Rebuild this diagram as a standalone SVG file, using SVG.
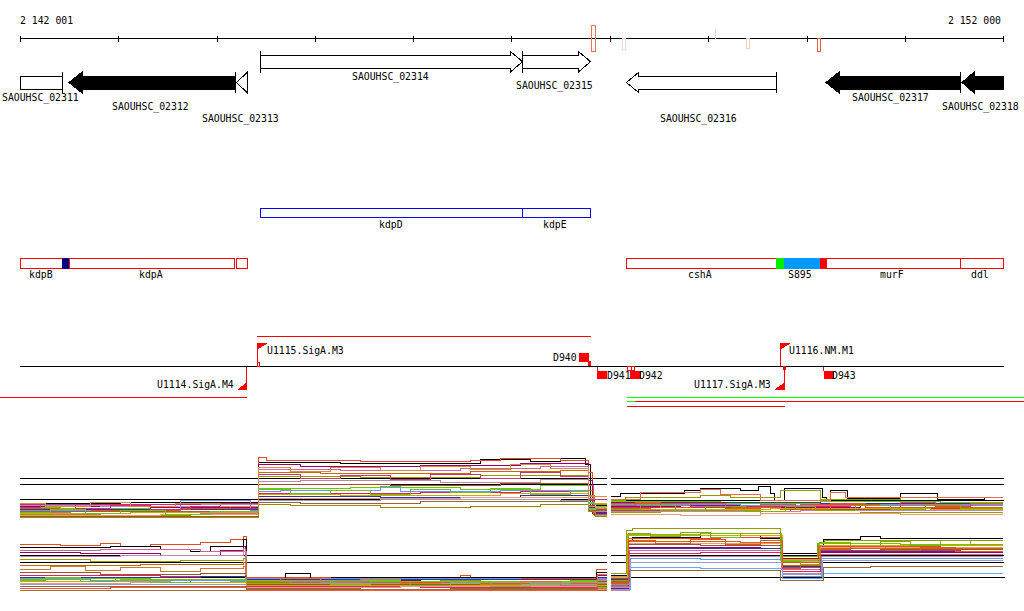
<svg xmlns="http://www.w3.org/2000/svg" width="1024" height="611" viewBox="0 0 1024 611">
<defs>
<style>
.t{font-family:"DejaVu Sans Mono","Liberation Mono",monospace;font-size:9.8px;fill:#000}
.g{fill:#fff;stroke:#000;stroke-width:1}
.gb{fill:#000;stroke:#000;stroke-width:1}
.ln{stroke:#000;stroke-width:1;fill:none}
.rl{stroke:#ff0000;stroke-width:1;fill:none}
.rf{fill:#ff0000}
.rb{fill:none;stroke:#ff0000;stroke-width:1}
.bb{fill:none;stroke:#0000ff;stroke-width:1}
.d path{fill:none;stroke-width:1}
.ref{stroke:#000;stroke-width:1}
</style>
</defs>
<rect width="1024" height="611" fill="#fff"/>
<g shape-rendering="crispEdges">
<g id="ruler">
<text class="t" x="20" y="24">2 142 001</text>
<text class="t" x="1001" y="24" text-anchor="end">2 152 000</text>
<line class="ln" x1="20" y1="38.5" x2="1004" y2="38.5"/>
<path class="ln" d="M20.5,35.5V41.5M118.5,35.5V41.5M217.5,35.5V41.5M315.5,35.5V41.5M413.5,35.5V41.5M511.5,35.5V41.5M610.5,35.5V41.5M708.5,35.5V41.5M807.5,35.5V41.5M905.5,35.5V41.5M1003.5,35.5V41.5"/>
<rect x="591.5" y="25.5" width="4" height="26" fill="none" stroke="#e8735a"/>
<rect x="622.5" y="38.5" width="2.5" height="10.5" fill="none" stroke="#f5d5c8"/>
<rect x="714.5" y="29" width="1.8" height="10" fill="#fbd3c0"/>
<rect x="746.5" y="38.5" width="2.5" height="10" fill="none" stroke="#f8cbbb"/>
<rect x="817.5" y="38.5" width="3" height="13" fill="none" stroke="#e8603f"/>
</g>
<g id="SAOUHSC_02311">
<rect class="g" x="20.5" y="76.5" width="41.5" height="12.5"/>
<line class="ln" x1="62.5" y1="72" x2="62.5" y2="93"/>
<text class="t" x="2" y="101">SAOUHSC_02311</text>
</g>
<g id="SAOUHSC_02312">
<polygon class="gb" points="69,82.5 82,72 82,76.5 235,76.5 235,89 82,89 82,93"/>
<line class="ln" x1="235.5" y1="72" x2="235.5" y2="93"/>
<text class="t" x="112" y="110">SAOUHSC_02312</text>
</g>
<g id="SAOUHSC_02313">
<polygon class="g" points="236.5,82.5 247,72.5 247,92.5"/>
<text class="t" x="202" y="122">SAOUHSC_02313</text>
</g>
<g id="SAOUHSC_02314">
<polygon class="g" points="260.5,55.5 510.5,55.5 510.5,51.5 522.5,61.7 510.5,72 510.5,68.5 260.5,68.5"/>
<line class="ln" x1="260.5" y1="51" x2="260.5" y2="72.5"/>
<text class="t" x="352" y="79.5">SAOUHSC_02314</text>
</g>
<g id="SAOUHSC_02315">
<polygon class="g" points="522.5,55.5 578.5,55.5 578.5,51.5 590.5,61.7 578.5,72 578.5,68.5 522.5,68.5"/>
<line class="ln" x1="522.5" y1="51" x2="522.5" y2="72.5"/>
<text class="t" x="516" y="89">SAOUHSC_02315</text>
</g>
<g id="SAOUHSC_02316">
<polygon class="g" points="626.5,82.5 638.5,72.5 638.5,76.5 776.5,76.5 776.5,89 638.5,89 638.5,92.5"/>
<line class="ln" x1="776.5" y1="72" x2="776.5" y2="93"/>
<text class="t" x="660" y="122">SAOUHSC_02316</text>
</g>
<g id="SAOUHSC_02317">
<polygon class="gb" points="826,82.5 839,72 839,76.5 960.5,76.5 960.5,89 839,89 839,93"/>
<line class="ln" x1="960.5" y1="72" x2="960.5" y2="93"/>
<text class="t" x="852" y="101">SAOUHSC_02317</text>
</g>
<g id="SAOUHSC_02318">
<polygon class="gb" points="962,82.5 974,72 974,76.5 1003.5,76.5 1003.5,89 974,89 974,93"/>
<text class="t" x="942" y="110">SAOUHSC_02318</text>
</g>
<g id="kdpDE">
<rect class="bb" x="260.5" y="208.5" width="330" height="8.5"/>
<line class="bb" x1="522.5" y1="208.5" x2="522.5" y2="217"/>
<text class="t" x="379" y="228">kdpD</text>
<text class="t" x="543" y="228">kdpE</text>
</g>
<g id="kdpBA">
<rect class="rb" x="20.5" y="258.5" width="214" height="9.5"/>
<rect x="62" y="258" width="7" height="10.5" fill="#000080"/>
<line class="rb" x1="69.5" y1="258.5" x2="69.5" y2="268"/>
<rect class="rb" x="236.5" y="258.5" width="10.5" height="9.5"/>
<text class="t" x="29" y="278">kdpB</text>
<text class="t" x="139" y="278">kdpA</text>
</g>
<g id="cshA-murF-ddl">
<rect class="rb" x="626.5" y="258.5" width="377" height="9.5"/>
<rect x="776" y="258" width="8" height="10.5" fill="#00ee00"/>
<rect x="784" y="258" width="36" height="10.5" fill="#0099ff"/>
<rect x="820" y="258" width="7" height="10.5" fill="#ff0000"/>
<line class="rb" x1="960.5" y1="258.5" x2="960.5" y2="268"/>
<text class="t" x="688" y="278">cshA</text>
<text class="t" x="788" y="278">S895</text>
<text class="t" x="880" y="278">murF</text>
<text class="t" x="971" y="278">ddl</text>
</g>
<g id="connectors">
<line class="ln" x1="20" y1="366.5" x2="1004" y2="366.5"/>
<line class="rl" x1="257" y1="336.5" x2="591" y2="336.5"/>
<line class="rl" x1="0" y1="397.5" x2="247" y2="397.5"/>
<line x1="627" y1="397.5" x2="1024" y2="397.5" stroke="#00ff00"/>
<line x1="627" y1="401.5" x2="635" y2="401.5" stroke="#00ff00"/>
<line class="rl" x1="635" y1="401.5" x2="1024" y2="401.5"/>
<line class="rl" x1="627" y1="406.5" x2="785" y2="406.5"/>
</g>
<g id="U1115.SigA.M3">
<line class="rl" x1="257.5" y1="343" x2="257.5" y2="366"/>
<polygon class="rf" points="257,343 268,343 257,350"/>
<rect class="rb" x="257.5" y="362.5" width="2" height="3.5"/>
<text class="t" x="267" y="354">U1115.SigA.M3</text>
</g>
<g id="U1114.SigA.M4">
<line class="rl" x1="246.5" y1="367" x2="246.5" y2="389.5"/>
<polygon class="rf" points="247,382 247,390 237,390"/>
<text class="t" x="157" y="388">U1114.SigA.M4</text>
</g>
<g id="D940">
<rect class="rf" x="579" y="353" width="10" height="9"/>
<rect class="rf" x="588" y="361" width="3" height="5"/>
<text class="t" x="553" y="361">D940</text>
</g>
<g id="D941">
<line class="rl" x1="597.5" y1="367" x2="597.5" y2="371"/>
<rect class="rf" x="597" y="371" width="10" height="8"/>
<text class="t" x="607" y="379">D941</text>
</g>
<g id="D942">
<rect class="rb" x="627.5" y="366.5" width="3.5" height="4"/>
<rect class="rb" x="631" y="366.5" width="3.5" height="4"/>
<rect class="rf" x="630" y="371" width="10.5" height="8"/>
<text class="t" x="639" y="379">D942</text>
</g>
<g id="U1116.NM.M1">
<line class="rl" x1="780.5" y1="343" x2="780.5" y2="366"/>
<polygon class="rf" points="780,343 791,343 780,350"/>
<rect class="rf" x="782.5" y="366" width="3" height="4"/>
<text class="t" x="789" y="354">U1116.NM.M1</text>
</g>
<g id="U1117.SigA.M3">
<line class="rl" x1="784.5" y1="367" x2="784.5" y2="389.5"/>
<polygon class="rf" points="785,382 785,390 774,390"/>
<text class="t" x="694" y="388">U1117.SigA.M3</text>
</g>
<g id="D943">
<line class="rl" x1="823.5" y1="367" x2="823.5" y2="371"/>
<rect class="rf" x="824" y="371" width="10" height="8"/>
<text class="t" x="832" y="379">D943</text>
</g>
<g id="expr1" class="d">
<path class="ref" d="M20,478.5H607M611,478.5H1004M20,484.5H607M611,484.5H1004M20,499.5H607M611,500.5H1004"/>
<path stroke="#000" d="M20,503.5H120V502.5H258V462.5H340V463.5H480V459.5H530V461.5H560V458.5H585V464.5H590V505.5H607"/>
<path stroke="#e84a1e" d="M20,509.5H90V510.5H180V508.5H258V457.5H266V460.5H360V461.5H470V460.5H500V458.5H560V460.5H588V472.5H592V511.5H607"/>
<path stroke="#990066" d="M20,506.5H150V507.5H258V464.5H300V466.5H420V465.5H520V463.5H588V480.5H592V513.5H607"/>
<path stroke="#cc6699" d="M20,512.5H70V511.5H200V513.5H258V469.5H340V470.5H460V468.5H540V466.5H588V485.5H593V509.5H607"/>
<path stroke="#cc6600" d="M20,508.5H110V509.5H258V472.5H320V473.5H470V471.5H560V470.5H588V490.5H593V514.5H607"/>
<path stroke="#999900" d="M20,514.5H100V515.5H190V514.5H258V476.5H360V477.5H480V475.5H588V495.5H594V504.5H607"/>
<path stroke="#bb88aa" d="M20,505.5H140V504.5H258V481.5H300V480.5H440V482.5H540V479.5H588V498.5H594V511.5H607"/>
<path stroke="#a0522d" d="M20,516.5H258V484.5H390V485.5H500V483.5H588V500.5H594V515.5H607"/>
<path stroke="#66cc00" d="M20,507.5H60V508.5H150V506.5H258V488.5H350V487.5H460V489.5H540V485.5H588V502.5H594V506.5H607"/>
<path stroke="#6699ee" d="M20,510.5H90V511.5H180V500.5H250V510.5H258V491.5H280V490.5H380V486.5H400V491.5H500V490.5H588V503.5H594V512.5H607"/>
<path stroke="#dd2266" d="M20,504.5H200V503.5H258V493.5H420V492.5H520V491.5H588V505.5H594V509.5H607"/>
<path stroke="#ccaa00" d="M20,513.5H130V512.5H258V494.5H340V495.5H500V493.5H588V506.5H595V503.5H607"/>
<path stroke="#333399" d="M20,509.5H258V496.5H380V497.5H520V495.5H588V507.5H595V512.5H607"/>
<path stroke="#ee9977" d="M20,515.5H160V514.5H258V498.5H460V497.5H588V508.5H595V507.5H607"/>
<path stroke="#9999cc" d="M20,505.5H100V506.5H258V500.5H380V499.5H560V500.5H588V509.5H595V515.5H607"/>
<path stroke="#996633" d="M20,511.5H258V502.5H300V503.5H420V501.5H588V510.5H607"/>
<path stroke="#998800" d="M20,517.5H258V504.5H290V505.5H380V507.5H470V506.5H540V504.5H588V511.5H595V516.5H607"/>
<path stroke="#cc3377" d="M20,507.5H40V504.5H75V508.5H110V505.5H150V509.5H190V506.5H230V508.5H258V474.5H300V478.5H340V475.5H390V479.5H430V474.5H480V478.5H520V472.5H560V476.5H588V499.5H607"/>
<path stroke="#77bb22" d="M20,512.5H50V509.5H85V513.5H120V510.5H165V514.5H210V511.5H258V489.5H290V493.5H330V490.5H370V494.5H410V489.5H450V492.5H490V488.5H530V494.5H570V491.5H588V508.5H607"/>
<path stroke="#dd8844" d="M20,503.5H45V506.5H90V502.5H130V506.5H175V503.5H220V506.5H258V467.5H290V471.5H330V467.5H380V470.5H420V466.5H470V469.5H510V464.5H550V468.5H588V496.5H607"/>
<path stroke="#000" d="M611,496.5H620V493.5H684V490.5H700V488.5H740V490.5H758V486.5H770V493.5H774V500.5H784V488.5H822V497.5H826V500.5H830V490.5H847V498.5H900V493.5H937V499.5H984V497.5H1003"/>
<path stroke="#999900" d="M611,500.5H625V497.5H700V495.5H730V497.5H780V490.5H820V499.5H900V497.5H1003"/>
<path stroke="#e86a4a" d="M611,499.5H640V492.5H700V489.5H720V494.5H760V500.5H830V492.5H845V497.5H1003"/>
<path stroke="#e84a1e" d="M611,503.5H700V502.5H800V504.5H900V503.5H1003"/>
<path stroke="#990066" d="M611,506.5H680V505.5H760V507.5H860V505.5H1003"/>
<path stroke="#66cc00" d="M611,501.5H720V503.5H820V501.5H940V502.5H1003"/>
<path stroke="#cc6600" d="M611,508.5H650V507.5H780V509.5H870V507.5H1003"/>
<path stroke="#6699ee" d="M611,504.5H740V505.5H880V504.5H1003"/>
<path stroke="#a0522d" d="M611,510.5H700V511.5H790V509.5H900V510.5H1003"/>
<path stroke="#cc6699" d="M611,505.5H690V506.5H810V505.5H1003"/>
<path stroke="#999900" d="M611,512.5H660V510.5H760V513.5H860V512.5H1003"/>
<path stroke="#333399" d="M611,502.5H820V503.5H1003"/>
<path stroke="#dd2266" d="M611,507.5H730V506.5H850V508.5H1003"/>
<path stroke="#ccaa00" d="M611,509.5H770V508.5H930V509.5H1003"/>
<path stroke="#bb88aa" d="M611,511.5H800V510.5H1003"/>
<path stroke="#ee9977" d="M611,514.5H680V515.5H760V513.5H900V514.5H1003"/>
<path stroke="#dd5522" d="M611,505.5H635V502.5H660V507.5H690V503.5H725V508.5H760V504.5H795V509.5H830V503.5H865V507.5H900V502.5H935V506.5H970V503.5H1003"/>
<path stroke="#88aa11" d="M611,509.5H640V505.5H675V510.5H705V506.5H745V511.5H785V506.5H815V510.5H855V505.5H890V509.5H925V504.5H960V508.5H1003"/>
</g>
<g id="expr2" class="d">
<path class="ref" d="M20,555.5H607M611,555.5H1004M20,562.5H607M611,562.5H1004M20,577.5H607M611,577.5H1005"/>
<path stroke="#e84a1e" d="M20,544.5H60V545.5H100V543.5H120V546.5H150V544.5H200V542.5H230V539.5H243V536.5H246V577.5H330V578.5H460V575.5H470V578.5H596V569.5H607"/>
<path stroke="#000" d="M20,547.5H110V546.5H160V549.5H190V551.5H210V546.5H243V539.5H246V578.5H285V573.5H310V578.5H400V577.5H596V572.5H607"/>
<path stroke="#990066" d="M20,552.5H80V553.5H160V555.5H220V550.5H243V546.5H245V580.5H420V579.5H596V575.5H607"/>
<path stroke="#cc6699" d="M20,550.5H100V549.5H200V551.5H243V548.5H245V581.5H500V582.5H597V578.5H607"/>
<path stroke="#bb88aa" d="M20,556.5H120V555.5H243V551.5H246V583.5H380V582.5H597V580.5H607"/>
<path stroke="#999900" d="M20,559.5H90V561.5H180V560.5H243V558.5H246V580.5H360V579.5H597V583.5H607"/>
<path stroke="#cc6600" d="M20,565.5H140V564.5H243V562.5H246V582.5H470V583.5H597V586.5H607"/>
<path stroke="#a0522d" d="M20,572.5H100V574.5H200V573.5H246V584.5H607"/>
<path stroke="#dd2266" d="M20,575.5H160V576.5H246V586.5H420V587.5H597V581.5H607"/>
<path stroke="#66cc00" d="M20,578.5H120V579.5H246V580.5H400V581.5H597V587.5H607"/>
<path stroke="#6699ee" d="M20,579.5H90V580.5H246V578.5H520V579.5H607"/>
<path stroke="#333399" d="M20,577.5H200V576.5H246V579.5H597V577.5H607"/>
<path stroke="#ee9977" d="M20,583.5H130V582.5H246V587.5H400V586.5H597V589.5H607"/>
<path stroke="#996633" d="M20,586.5H246V589.5H450V588.5H597V590.5H607"/>
<path stroke="#ccaa00" d="M20,581.5H170V582.5H246V585.5H607"/>
<path stroke="#9999cc" d="M20,584.5H246V583.5H480V584.5H597V582.5H607"/>
<path stroke="#ff5533" d="M20,588.5H110V587.5H246V590.5H597V588.5H607"/>
<path stroke="#aa6633" d="M20,590.5H246V588.5H360V589.5H597V586.5H607"/>
<path stroke="#cc7733" d="M20,569.5H50V566.5H85V570.5H120V567.5H160V571.5H200V568.5H243V566.5H246V581.5H280V578.5H320V582.5H360V579.5H400V583.5H440V580.5H480V584.5H520V581.5H560V585.5H597V574.5H607"/>
<path stroke="#77bb22" d="M20,580.5H45V577.5H80V581.5H115V578.5H150V582.5H190V579.5H230V581.5H246V583.5H290V580.5H330V584.5H370V581.5H410V585.5H450V582.5H490V586.5H530V583.5H570V580.5H607"/>
<path stroke="#000" d="M611,575.5H627V540.5H632V537.5H700V535.5H760V538.5H780V553.5H817V545.5H823V539.5H860V536.5H880V538.5H1003"/>
<path stroke="#999900" d="M611,573.5H626V530.5H632V528.5H780V556.5H817V543.5H824V540.5H1003"/>
<path stroke="#66cc00" d="M611,580.5H627V534.5H700V533.5H780V560.5H818V543.5H900V544.5H1003"/>
<path stroke="#e84a1e" d="M611,582.5H628V538.5H720V537.5H781V562.5H818V546.5H940V545.5H1003"/>
<path stroke="#cc6600" d="M611,585.5H628V541.5H740V542.5H781V565.5H819V548.5H1003"/>
<path stroke="#a0522d" d="M611,578.5H627V544.5H700V545.5H781V567.5H819V550.5H880V549.5H1003"/>
<path stroke="#990066" d="M611,588.5H628V547.5H760V548.5H781V558.5H820V552.5H1003"/>
<path stroke="#cc6699" d="M611,586.5H629V550.5H781V569.5H820V554.5H1003"/>
<path stroke="#dd2266" d="M611,583.5H628V553.5H700V552.5H782V571.5H820V550.5H960V551.5H1003"/>
<path stroke="#bb88aa" d="M611,590.5H629V556.5H782V573.5H821V556.5H1003"/>
<path stroke="#6699ee" d="M611,584.5H630V558.5H700V559.5H782V576.5H821V558.5H1003"/>
<path stroke="#9999cc" d="M611,587.5H630V562.5H782V574.5H822V560.5H1003"/>
<path stroke="#66aaff" d="M611,589.5H630V567.5H700V568.5H782V578.5H822V573.5H1003"/>
<path stroke="#996633" d="M611,581.5H629V570.5H780V580.5H823V567.5H870V566.5H1003"/>
<path stroke="#333399" d="M611,579.5H628V548.5H782V566.5H820V551.5H1003"/>
<path stroke="#ccaa00" d="M611,576.5H627V535.5H782V559.5H819V545.5H1003"/>
<path stroke="#ee9977" d="M611,577.5H628V543.5H782V561.5H820V547.5H1003"/>
<path stroke="#88aa11" d="M611,580.5H628V533.5H650V536.5H680V532.5H710V537.5H740V533.5H781V561.5H800V564.5H819V542.5H850V546.5H880V541.5H910V545.5H940V540.5H970V544.5H1003"/>
<path stroke="#dd5522" d="M611,583.5H628V540.5H655V543.5H690V539.5H725V544.5H760V540.5H782V568.5H800V565.5H820V549.5H850V546.5H885V550.5H920V547.5H955V551.5H1003"/>
</g>
</g>
</svg>
